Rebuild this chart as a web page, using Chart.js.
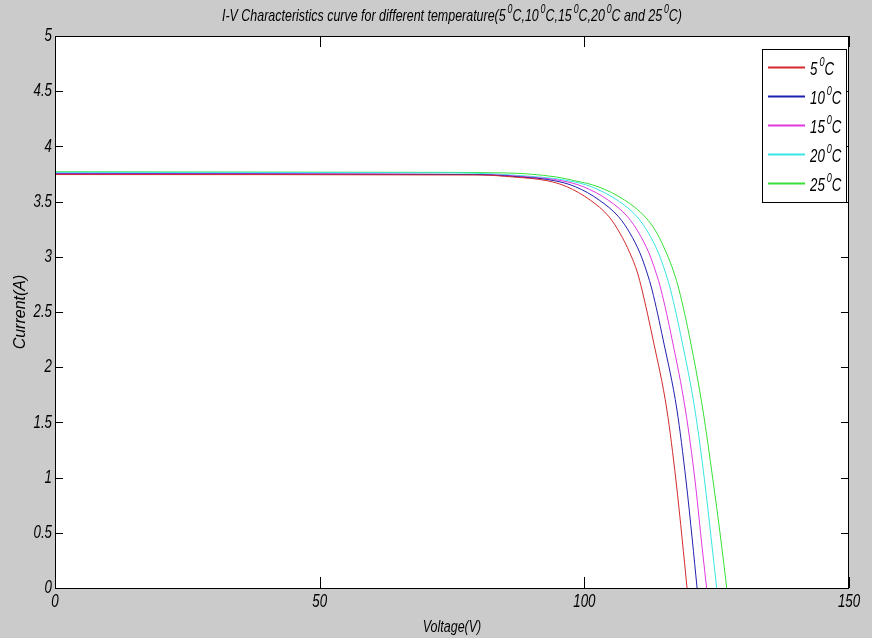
<!DOCTYPE html>
<html>
<head>
<meta charset="utf-8">
<script src="https://cdn.jsdelivr.net/npm/chart.js"></script>
<style>
  html, body { margin: 0; padding: 0; background: #cbcbcb; }
  #wrap { width: 872px; height: 638px; }
</style>
</head>
<body>
<div id="wrap"><canvas id="ivChart" width="872" height="638"></canvas></div>
<script>
var chartTitle = "I-V Characteristics curve for different temperature(5\u2070C,10\u2070C,15\u2070C,20\u2070C and 25\u2070C)";
var xTitle = "Voltage(V)";
var yTitle = "Current(A)";
var seriesLabels = ["5\u2070C", "10\u2070C", "15\u2070C", "20\u2070C", "25\u2070C"];
var lineColors = ["#d42a2a", "#2020b0", "#e038e0", "#38e6e6", "#38e038"];

// voltage (V) / current (A), one pair per temperature
var volt5  = [0, 80.3, 86.5, 93.0, 96.7, 101.1, 104.7, 106.7, 108.6, 110.0, 110.9, 113.0, 115.6, 117.3, 118.5, 119.4];
var amp5   = [3.745, 3.741, 3.723, 3.689, 3.635, 3.514, 3.361, 3.216, 3.035, 2.862, 2.699, 2.246, 1.612, 0.978, 0.435, 0];
var volt10 = [0, 79, 88.0, 94.4, 98.3, 102.8, 106.5, 108.6, 110.5, 111.8, 112.8, 114.9, 117.5, 119.2, 120.4, 121.3];
var amp10  = [3.75, 3.745, 3.723, 3.689, 3.635, 3.514, 3.361, 3.216, 3.035, 2.862, 2.699, 2.246, 1.612, 0.978, 0.435, 0];
var volt15 = [0, 80, 89.6, 95.7, 99.8, 104.5, 108.2, 110.3, 112.2, 113.5, 114.5, 116.6, 119.1, 120.9, 122.1, 123.1];
var amp15  = [3.755, 3.745, 3.723, 3.689, 3.635, 3.514, 3.361, 3.216, 3.035, 2.862, 2.699, 2.246, 1.612, 0.978, 0.435, 0];
var volt20 = [0, 75, 91.4, 97.0, 101.3, 106.2, 110.0, 112.1, 114.0, 115.3, 116.3, 118.4, 120.9, 122.7, 124.0, 125.0];
var amp20  = [3.765, 3.76, 3.723, 3.689, 3.635, 3.514, 3.361, 3.216, 3.035, 2.862, 2.699, 2.246, 1.612, 0.978, 0.435, 0];
var volt25 = [0, 68, 85, 94.7, 98.2, 102.6, 107.6, 111.5, 113.7, 115.5, 116.9, 117.9, 120.0, 122.4, 124.3, 125.8, 126.9];
var amp25  = [3.77, 3.765, 3.76, 3.723, 3.689, 3.635, 3.514, 3.361, 3.216, 3.035, 2.862, 2.699, 2.246, 1.612, 0.978, 0.435, 0];

var xTicks = [0, 50, 100, 150];
var yTicks = [0, 0.5, 1, 1.5, 2, 2.5, 3, 3.5, 4, 4.5, 5];

var volts = [volt5, volt10, volt15, volt20, volt25];
var amps = [amp5, amp10, amp15, amp20, amp25];

var datasets = seriesLabels.map(function (lab, i) {
  return {
    label: lab,
    data: volts[i].map(function (v, j) { return {x: v, y: amps[i][j]}; }),
    borderColor: lineColors[i],
    borderWidth: 1,
    pointRadius: 0,
    fill: false,
    cubicInterpolationMode: "monotone"
  };
});

var FONT = "'Liberation Sans', Arial, sans-serif";

// text with "\u2070" drawn as a raised small 0, like the matlab labels
function richWidth(c, text, size) {
  var segs = text.split("\u2070"), w = 0;
  segs.forEach(function (s, i) {
    c.font = "italic " + size + "px " + FONT;
    w += c.measureText(s).width;
    if (i < segs.length - 1) {
      c.font = "italic " + Math.round(size * 0.7) + "px " + FONT;
      w += c.measureText("0").width + size * 0.15;
    }
  });
  return w;
}
function drawRich(c, text, x, y, size, sx, align) {
  var w = richWidth(c, text, size) * sx;
  var start = align === "center" ? x - w / 2 : (align === "right" ? x - w : x);
  var segs = text.split("\u2070"), cx = 0;
  c.save();
  c.translate(start, y);
  c.scale(sx, 1);
  c.textBaseline = "middle";
  c.textAlign = "left";
  c.fillStyle = "#000";
  segs.forEach(function (s, i) {
    c.font = "italic " + size + "px " + FONT;
    c.fillText(s, cx, 0);
    cx += c.measureText(s).width;
    if (i < segs.length - 1) {
      cx += size * 0.15;
      c.font = "italic " + Math.round(size * 0.7) + "px " + FONT;
      c.fillText("0", cx, -size * 0.38);
      cx += c.measureText("0").width;
    }
  });
  c.restore();
}

var matlabLook = {
  id: "matlabLook",
  beforeDraw: function (chart) {
    var c = chart.ctx, a = chart.chartArea;
    c.save();
    c.fillStyle = "#cbcbcb";
    c.fillRect(0, 0, chart.width, chart.height);
    c.fillStyle = "#ffffff";
    c.fillRect(a.left, a.top, a.right - a.left, a.bottom - a.top);
    c.restore();
  },
  afterDraw: function (chart) {
    var c = chart.ctx, a = chart.chartArea;
    var xs = chart.scales.x, ys = chart.scales.y;
    c.save();
    c.strokeStyle = "#000";
    c.lineWidth = 1;
    c.strokeRect(a.left + 0.5, a.top + 0.5, a.right - a.left - 1, a.bottom - a.top);
    c.beginPath();
    xTicks.forEach(function (t) {
      var px = Math.round(xs.getPixelForValue(t)) + 0.5;
      c.moveTo(px, a.bottom); c.lineTo(px, a.bottom - 11);
      c.moveTo(px, a.top); c.lineTo(px, a.top + 11);
    });
    yTicks.forEach(function (t) {
      var py = Math.round(ys.getPixelForValue(t)) + 0.5;
      c.moveTo(a.left, py); c.lineTo(a.left + 8, py);
      c.moveTo(a.right, py); c.lineTo(a.right - 8, py);
    });
    c.stroke();

    // tick labels
    xTicks.forEach(function (t) {
      drawRich(c, String(t), xs.getPixelForValue(t), a.bottom + 14, 19, 0.7, "center");
    });
    yTicks.forEach(function (t) {
      drawRich(c, String(t), a.left - 3, ys.getPixelForValue(t), 19, 0.7, "right");
    });

    // titles
    drawRich(c, chartTitle, (a.left + a.right) / 2, 16, 17, 460 / richWidth(c, chartTitle, 17), "center");
    drawRich(c, xTitle, (a.left + a.right) / 2, 628, 16, 0.78, "center");
    c.save();
    c.translate(21, (a.top + a.bottom) / 2);
    c.rotate(-Math.PI / 2);
    drawRich(c, yTitle, 0, 0, 16, 1, "center");
    c.restore();

    // legend
    var bx = 762, by = 49, bw = 84, bh = 153;
    c.fillStyle = "#fff";
    c.fillRect(bx, by, bw, bh);
    c.strokeStyle = "#000";
    c.strokeRect(bx + 0.5, by + 0.5, bw, bh);
    chart.data.datasets.forEach(function (ds, i) {
      var y = 67 + i * 29;
      c.fillStyle = ds.borderColor;
      c.fillRect(768, y - 0.5, 37, 2);
      drawRich(c, ds.label, 810, y + 3, 19, 0.7, "left");
    });
    c.restore();
  }
};

new Chart(document.getElementById("ivChart"), {
  type: "line",
  data: { datasets: datasets },
  plugins: [matlabLook],
  options: {
    responsive: false,
    animation: false,
    layout: { padding: { left: 55, right: 23, top: 36, bottom: 50 } },
    plugins: {
      legend: { display: false },
      tooltip: { enabled: false },
      title: { display: false }
    },
    scales: {
      x: { type: "linear", min: 0, max: 150, display: false },
      y: { type: "linear", min: 0, max: 5, display: false }
    }
  }
});
</script>
</body>
</html>
